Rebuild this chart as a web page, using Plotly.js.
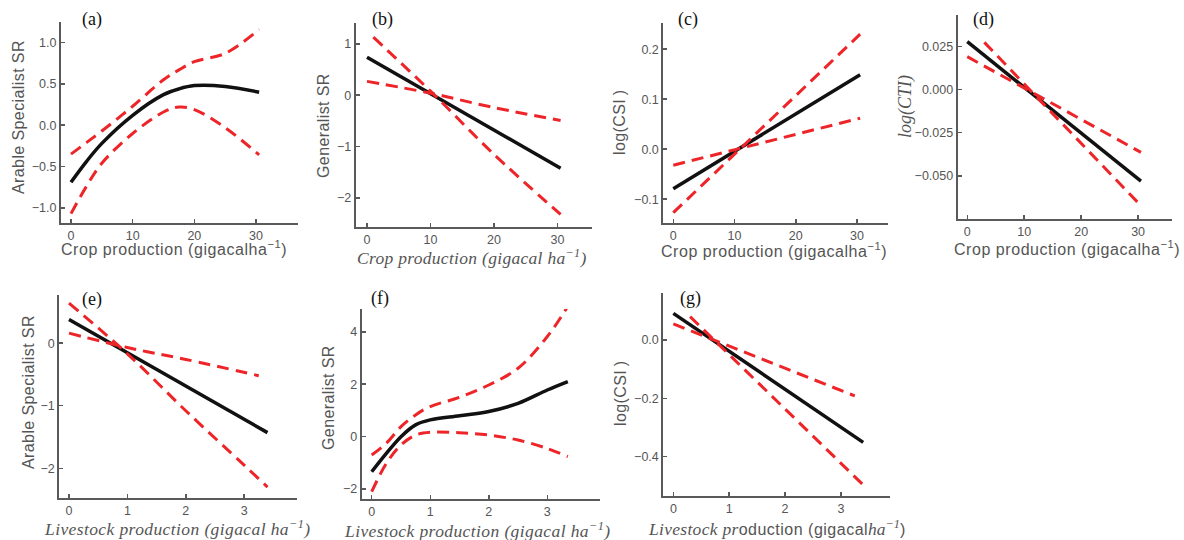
<!DOCTYPE html>
<html><head><meta charset="utf-8">
<script src="https://cdn.plot.ly/plotly-3.0.1.min.js"></script>
<style>html,body{margin:0;padding:0;background:#fff}#chart{width:1184px;height:540px}</style>
</head><body><div id="chart"></div>
<script>
// ---------- data ----------
// (a) Arable specialist SR vs crop production
const aX   = [0, 2.5, 5, 10, 15, 17.5, 20, 25, 30.5];
const aFit = [-0.69, -0.44, -0.22, 0.12, 0.37, 0.44, 0.48, 0.47, 0.40];
const aUp  = [-0.35, -0.21, -0.07, 0.23, 0.55, 0.67, 0.77, 0.87, 1.16];
const aLo  = [-1.07, -0.74, -0.46, -0.10, 0.16, 0.22, 0.19, -0.03, -0.36];
// (b) Generalist SR vs crop production
const bX = [0, 10, 20, 30.5];
const bFit = [0.74, 0.03, -0.68, -1.42];
const bSteepX = [1, 10, 20, 30.5];
const bSteep = [1.13, 0.08, -1.15, -2.32];
const bShallow = [0.27, 0.04, -0.24, -0.49];
// (c) log(CSI) vs crop production
const cX = [0, 30.5];
const cFit = [-0.079, 0.149];
const cSteep = [-0.127, 0.230];
const cShallow = [-0.032, 0.062];
// (d) log(CTI) vs crop production
const dX = [0, 30.5];
const dFit = [0.0279, -0.0531];
const dSteepX = [3, 30.5];
const dSteep = [0.0275, -0.0674];
const dShallow = [0.0192, -0.0364];
// (e) Arable specialist SR vs livestock production
const eX = [0, 3.4];
const eFit = [0.38, -1.43];
const eSteepX = [0, 1, 2, 3, 3.4];
const eSteep = [0.64, -0.17, -1.08, -1.95, -2.30];
const eShallowX = [0, 1, 2, 3.25];
const eShallow = [0.16, -0.07, -0.26, -0.52];
// (f) Generalist SR vs livestock production
const fX   = [0, 0.25, 0.5, 0.75, 1, 1.5, 2, 2.5, 3, 3.35];
const fFit = [-1.34, -0.64, 0.0, 0.45, 0.64, 0.80, 0.96, 1.27, 1.78, 2.10];
const fUp  = [-0.70, -0.25, 0.38, 0.83, 1.15, 1.50, 1.97, 2.61, 3.82, 4.97];
const fLo  = [-2.10, -1.02, -0.32, 0.06, 0.17, 0.15, 0.06, -0.13, -0.45, -0.76];
// (g) log(CSI) vs livestock production
const gX = [0, 3.4];
const gFit = [0.091, -0.351];
const gSteepX = [0.3, 3.4];
const gSteep = [0.08, -0.497];
const gShallowX = [0, 3.25];
const gShallow = [0.055, -0.192];

const cropTicks = [0, 10, 20, 30];
const liveTicks = [0, 1, 2, 3];

// ---------- layout helpers ----------
const W = 1184, H = 540;
const SANS = 'Liberation Sans, Arial, sans-serif';
const SERIF = 'Liberation Serif, Times New Roman, serif';
const AX = '#5a5a5a';
const RED = '#ee2528';

const panels = [
  {box:[61,298,22,222.7],  xr:[-1.62,36.8], yr:[-1.18,1.25],  xt:cropTicks, yt:[-1,-0.5,0,0.5,1], yf:'.1f',
   lines:[[aX,aFit,'k',1],[aX,aUp,'r',1],[aX,aLo,'r',1]]},
  {box:[355.7,591.7,23.3,227.3], xr:[-1.78,35.4], yr:[-2.57,1.40], xt:cropTicks, yt:[-2,-1,0,1], yf:'d',
   lines:[[bX,bFit,'k',0],[bSteepX,bSteep,'r',1],[bX,bShallow,'r',1]]},
  {box:[663.3,887.7,22.7,222.7], xr:[-1.63,35.0], yr:[-0.147,0.253], xt:cropTicks, yt:[-0.1,0,0.1,0.2], yf:'.1f',
   lines:[[cX,cFit,'k',0],[cX,cSteep,'r',0],[cX,cShallow,'r',0]]},
  {box:[957.7,1171.7,15,219.3], xr:[-1.68,35.9], yr:[-0.0753,0.0434], xt:cropTicks, yt:[-0.05,-0.025,0,0.025], yf:'.3f',
   lines:[[dX,dFit,'k',0],[dSteepX,dSteep,'r',0],[dX,dShallow,'r',0]]},
  {box:[59.3,296.7,295,498.3], xr:[-0.166,3.90], yr:[-2.48,0.77], xt:liveTicks, yt:[-2,-1,0], yf:'d',
   lines:[[eX,eFit,'k',0],[eSteepX,eSteep,'r',1],[eShallowX,eShallow,'r',1]]},
  {box:[361.7,600,309,499.3], xr:[-0.171,3.90], yr:[-2.39,4.87], xt:liveTicks, yt:[-2,0,2,4], yf:'d',
   lines:[[fX,fFit,'k',1],[fX,fUp,'r',1],[fX,fLo,'r',1]]},
  {box:[663.3,890,292.7,495.7], xr:[-0.18,3.88], yr:[-0.534,0.162], xt:liveTicks, yt:[-0.4,-0.2,0], yf:'.1f',
   lines:[[gX,gFit,'k',0],[gSteepX,gSteep,'r',0],[gShallowX,gShallow,'r',0]]}
];

const data = [];
const layout = {
  width: W, height: H, margin:{l:0,r:0,t:0,b:0},
  paper_bgcolor:'#fff', plot_bgcolor:'#fff', showlegend:false,
  font:{family:SANS, color:'#555'},
  annotations:[]
};

panels.forEach((p, i) => {
  const n = i + 1;
  const xa = n === 1 ? 'xaxis' : 'xaxis' + n;
  const ya = n === 1 ? 'yaxis' : 'yaxis' + n;
  const xr = n === 1 ? 'x' : 'x' + n;
  const yr = n === 1 ? 'y' : 'y' + n;
  const [x0,x1,y0,y1] = p.box;
  const common = {showgrid:false, zeroline:false, showline:true, linecolor:AX, linewidth:2,
    ticks:'inside', ticklen:4, tickwidth:1.5, tickcolor:AX, fixedrange:true,
    tickfont:{family:SANS, size:12.5, color:'#555'}};
  layout[xa] = Object.assign({}, common, {domain:[x0/W, x1/W], range:p.xr, anchor:yr,
    tickmode:'array', tickvals:p.xt, ticktext:p.xt.map(String)});
  layout[ya] = Object.assign({}, common, {domain:[1 - y1/H, 1 - y0/H], range:p.yr, anchor:xr,
    tickmode:'array', tickvals:p.yt, tickformat:p.yf});
  const order = p.lines.filter(l => l[2] === 'k').concat(p.lines.filter(l => l[2] === 'r'));
  order.forEach(l => {
    const isK = l[2] === 'k';
    data.push({x:l[0], y:l[1], xaxis:xr, yaxis:yr, type:'scatter', mode:'lines', hoverinfo:'skip',
      line:{color: isK ? '#111' : RED, width: isK ? 3.5 : 3, dash: isK ? 'solid' : '12px,7px',
        shape: l[3] ? 'spline' : 'linear', smoothing:1}});
  });
});

function ann(x, y, text, opts) {
  layout.annotations.push(Object.assign({xref:'paper', yref:'paper', x:x/W, y:1 - y/H,
    xanchor:'center', yanchor:'middle', showarrow:false, text:text,
    font:{family:SANS, size:16, color:'#555'}}, opts || {}));
}
const sp = (t, ls) => '<span style="letter-spacing:' + ls + 'px">' + t + '</span>';
const serifFont = {family:SERIF, size:18, color:'#111'};
const italicTitle = {family:SERIF, size:17.5, color:'#555', style:'italic'};
const sup = '<sup>−1</sup>';

// panel letters
[['(a)',92,20],['(b)',382,20],['(c)',688,20],['(d)',983,20],['(e)',92,299],['(f)',380,298],['(g)',690,298]]
  .forEach(t => ann(t[1], t[2], t[0], {font:serifFont}));

// y-axis titles
ann(18, 117, sp('Arable Specialist SR', 0.4), {textangle:-90});
ann(323, 126, sp('Generalist SR', 0.4), {textangle:-90});
ann(620, 123, sp('log(CSI\u2009)', 0.4), {textangle:-90});
ann(905, 107, 'log(CTI)', {textangle:-90, font:{family:SERIF, size:18, color:'#555', style:'italic'}});
ann(28, 392, sp('Arable Specialist SR', 0.4), {textangle:-90});
ann(328, 398, sp('Generalist SR', 0.4), {textangle:-90});
ann(620, 394, sp('log(CSI\u2009)', 0.4), {textangle:-90});

// x-axis titles
ann(174, 248, sp('Crop production (gigacalha' + sup + ')', 0.55));
ann(472, 257, sp('Crop production (gigacal ha' + sup + ')', 0.3), {font:italicTitle});
ann(774, 250, sp('Crop production (gigacalha' + sup + ')', 0.55));
ann(1067, 248, sp('Crop production (gigacalha' + sup + ')', 0.55));
ann(177, 528, sp('Livestock production (gigacal ha' + sup + ')', 0.4), {font:italicTitle});
ann(477, 530, sp('Livestock production (gigacal ha' + sup + ')', 0.4), {font:italicTitle});
ann(776, 528, '<span style="font-family:Liberation Serif;font-style:italic;font-size:17.5px;letter-spacing:0.3px">Livestock pr</span>' +
  sp('oduction (gigacal', 0.5) +
  '<span style="font-family:Liberation Serif;font-style:italic;font-size:17.5px">ha' + sup + '</span>)');

Plotly.newPlot('chart', data, layout, {staticPlot:true});
</script>
</body></html>
